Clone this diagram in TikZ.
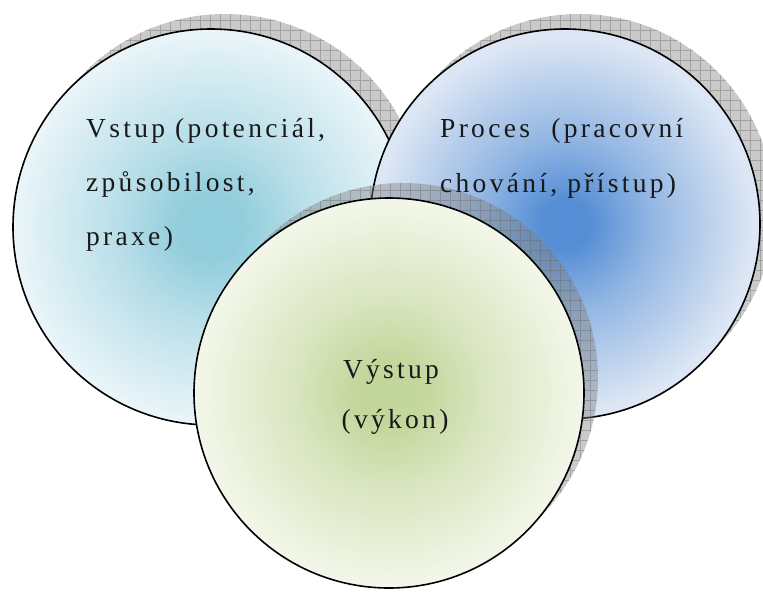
\documentclass[tikz,border=0pt]{standalone}
\usepackage{fontspec}
\setmainfont{Liberation Serif}[LetterSpace=12]
\definecolor{vin}{HTML}{92CDDC}
\definecolor{vout}{HTML}{EAF5F9}
\definecolor{pin}{HTML}{558ED5}
\definecolor{pout}{HTML}{DCE6F4}
\definecolor{oin}{HTML}{C3D69B}
\definecolor{oout}{HTML}{F3F7EA}
\pgfdeclareradialshading{vshade}{\pgfpoint{0bp}{0bp}}{color(0bp)=(vin); color(4bp)=(vin); color(12bp)=(vin!55!vout); color(25bp)=(vout); color(50bp)=(vout)}
\pgfdeclareradialshading{pshade}{\pgfpoint{0bp}{0bp}}{color(0bp)=(pin); color(3bp)=(pin); color(11bp)=(pin!55!pout); color(24bp)=(pout); color(50bp)=(pout)}
\pgfdeclareradialshading{oshade}{\pgfpoint{0bp}{0bp}}{color(0bp)=(oin); color(4bp)=(oin); color(12bp)=(oin!55!oout); color(25bp)=(oout); color(50bp)=(oout)}
\tikzset{
  shadowfill/.style={fill=gray, fill opacity=0.42},
  shadowgrid/.style={draw=black!60, draw opacity=0.4, line width=0.6pt},
  bubble/.style={circle, draw=black, line width=1.6pt, inner sep=0pt, minimum size=#1},
  lbl/.style={font=\fontsize{27.5}{30}\selectfont, inner sep=0pt, text=black!90},
}
\begin{document}
\begin{tikzpicture}[x=1pt,y=-1pt]
\useasboundingbox (0,0) rectangle (763,592);
% circle 1 shadow
\begin{scope}
  \fill[shadowfill] (225,212) circle[radius=198pt];
  \clip (225,212) circle[radius=198pt];
  \draw[shadowgrid, step=10pt] (0,0) grid (780,600);
\end{scope}
\node[bubble=396pt, shading=vshade] (vstup) at (211,227) {};
% circle 2 shadow
\begin{scope}
  \fill[shadowfill] (579,209) circle[radius=195pt];
  \clip (579,209) circle[radius=195pt];
  \draw[shadowgrid, step=10pt] (0,0) grid (780,600);
\end{scope}
\node[bubble=390pt, shading=pshade] (proces) at (565,224) {};
% circle 3 shadow
\begin{scope}
  \fill[shadowfill] (403,378) circle[radius=195pt];
  \clip (403,378) circle[radius=195pt];
  \draw[shadowgrid, step=10pt] (0,0) grid (780,600);
\end{scope}
\node[bubble=390pt, shading=oshade] (vystup) at (389,393) {};
% texts
\node[lbl, anchor=base west] (t1) at (86,137) {Vstup (potenciál,};
\node[lbl, anchor=base west] (t2) at (86,191) {způsobilost,};
\node[lbl, anchor=base west] (t3) at (86,245) {praxe)};
\node[lbl, anchor=base west] (t4) at (440,137) {\makebox[243pt][s]{Proces (pracovní}};
\node[lbl, anchor=base west] (t5) at (440,192) {chování, přístup)};
\node[lbl, anchor=base] (t6) at (391,378) {Výstup};
\node[lbl, anchor=base] (t7) at (395,428) {(výkon)};
\end{tikzpicture}
\end{document}
